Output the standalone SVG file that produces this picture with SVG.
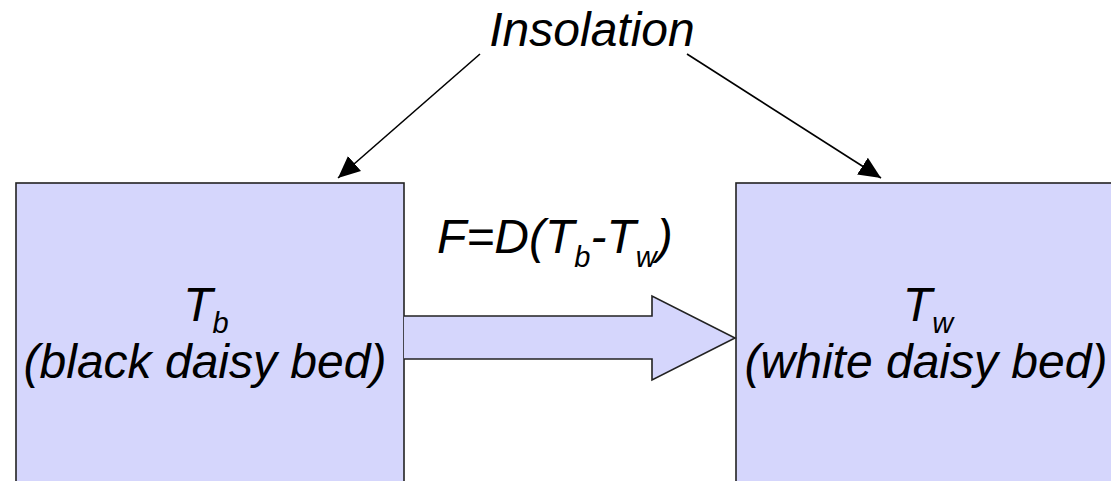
<svg xmlns="http://www.w3.org/2000/svg" width="1111" height="481" viewBox="0 0 1111 481">
<style>
.box{fill:#d5d6fc;stroke:#222;stroke-width:1.6}
.t{font-family:"Liberation Sans",Arial,sans-serif;font-style:italic;font-size:48px;fill:#000}
.sub{font-size:29px}
.ln{stroke:#000;stroke-width:1.6;fill:none}
</style>
<defs>
<marker id="ah" markerUnits="userSpaceOnUse" markerWidth="24" markerHeight="22" refX="22" refY="10" orient="auto">
<path d="M0,0 L22,10 L0,20 z" fill="#000"/>
</marker>
</defs>
<rect width="1111" height="481" fill="#fff"/>
<g id="insolation">
<text class="t" x="592" y="46" text-anchor="middle" font-size="49">Insolation</text>
</g>
<g id="black-bed">
<rect class="box" x="16" y="183" width="388" height="320"/>
<text class="t" x="206" y="321" text-anchor="middle">T<tspan class="sub" dy="12">b</tspan></text>
<text class="t" x="205" y="378" text-anchor="middle">(black daisy bed)</text>
</g>
<g id="white-bed">
<rect class="box" x="736" y="183" width="390" height="320"/>
<text class="t" x="928" y="321" text-anchor="middle">T<tspan class="sub" dy="12">w</tspan></text>
<text class="t" x="926" y="378" text-anchor="middle">(white daisy bed)</text>
</g>
<g id="connectors">
<line class="ln" x1="480" y1="54" x2="338" y2="178" marker-end="url(#ah)"/>
<line class="ln" x1="687" y1="54" x2="881" y2="178" marker-end="url(#ah)"/>
<path class="box" d="M404,316 L652,316 L652,296 L735,338 L652,380 L652,359 L404,359"/>
<text class="t" x="437" y="253">F=D(T<tspan class="sub" dy="14">b</tspan><tspan dy="-14">-T</tspan><tspan class="sub" dy="14">w</tspan><tspan dy="-14">)</tspan></text>
</g>
</svg>
